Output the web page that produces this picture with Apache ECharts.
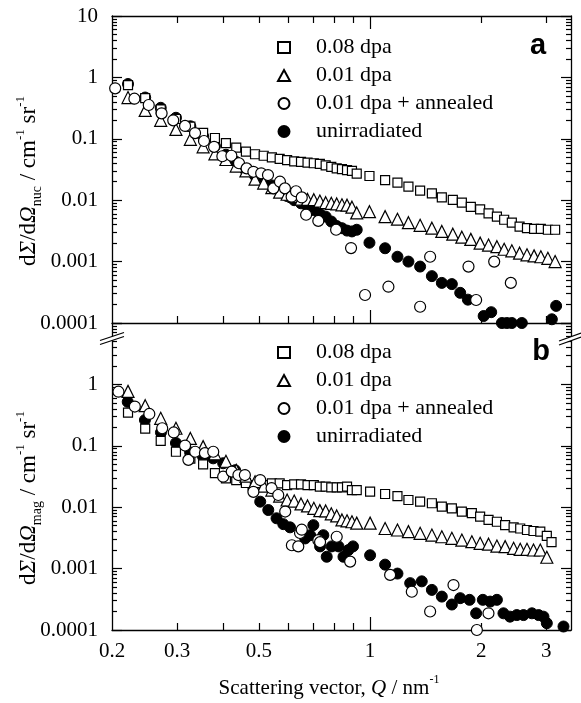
<!DOCTYPE html>
<html><head><meta charset="utf-8">
<script src="https://cdn.jsdelivr.net/npm/echarts@6/dist/echarts.min.js"></script>
<style>html,body{margin:0;padding:0;background:#fff}#c{width:581px;height:703px}</style>
</head><body><div id="c"></div>
<script>
// ---------- data ----------
const seriesNames = ['0.08 dpa', '0.01 dpa', '0.01 dpa + annealed', 'unirradiated'];
const xTickLabels = [0.2, 0.3, 0.5, 1, 2, 3];
const xMinorTicks = [0.3, 0.4, 0.5, 0.6, 0.7, 0.8, 0.9, 2, 3];
const xMajorTicks = [1];
const yDecades = [0.0001, 0.001, 0.01, 0.1, 1, 10];
const yLabelsTop = [0.0001, 0.001, 0.01, 0.1, 1, 10];
const yLabelsBottom = [0.0001, 0.001, 0.01, 0.1, 1];

const qLow = [0.221,0.246,0.271,0.298,0.326,0.353,0.38,0.407,0.434,0.461,0.488,0.515,0.542,0.569,0.596,0.623,0.65,0.677,0.704,0.731,0.758,0.785,0.812,0.839,0.866,0.893,0.92];
const qHighA = [0.996,1.098,1.186,1.27,1.366,1.47,1.564,1.675,1.772,1.874,1.986,2.093,2.205,2.307,2.42,2.54,2.66,2.78,2.90,3.03,3.17];
const qHighB = [1.0,1.098,1.186,1.27,1.366,1.47,1.564,1.665,1.772,1.886,1.986,2.093,2.205,2.321,2.447,2.55,2.66,2.77,2.89,3.01,3.1];

// panel a (nuclear)
const aSqLow  = [0.75,0.46,0.30,0.21,0.158,0.125,0.103,0.085,0.072,0.062,0.056,0.053,0.050,0.047,0.045,0.043,0.042,0.041,0.040,0.039,0.037,0.035,0.033,0.032,0.031,0.030,0.027];
const aSqHigh = [0.0248,0.0213,0.0193,0.0166,0.0143,0.0129,0.0111,0.0101,0.0091,0.0078,0.0071,0.0061,0.0054,0.0048,0.0043,0.0037,0.0035,0.0034,0.0034,0.0033,0.0033];
const aTriLow  = [0.47,0.29,0.20,0.142,0.098,0.074,0.057,0.046,0.036,0.030,0.022,0.019,0.016,0.0135,0.0125,0.0115,0.0104,0.0103,0.0102,0.0097,0.0091,0.0089,0.0087,0.0084,0.0083,0.0077,0.0062];
const aTriHigh = [0.0065,0.0054,0.0049,0.0043,0.0039,0.0035,0.0031,0.0028,0.0025,0.0023,0.0020,0.00186,0.00175,0.00159,0.0015,0.00137,0.00129,0.00124,0.0012,0.00113,0.001];
const aUnLow = [0.78,0.47,0.32,0.22,0.16,0.11,0.076,0.055,0.042,0.030,0.025,0.021,0.0174,0.0145,0.0117,0.010,0.0089,0.0079,0.0069,0.006,0.0054,0.0045,0.0038,0.0035,0.0032,0.0031,0.0033];
const aUnQHigh = [0.996,1.098,1.186,1.27,1.366,1.47,1.564,1.665,1.754,1.84,2.03,2.128,2.275,2.346,2.42,2.576,3.106,3.19];
const aUnHigh  = [0.00203,0.00165,0.0012,0.001,0.00083,0.00058,0.00045,0.00043,0.00031,0.00024,0.00013,0.00015,0.0001,0.0001,0.0001,0.0001,0.000115,0.00019];
const aAnQ = [0.204,0.230,0.2515,0.2725,0.293,0.3154,0.3357,0.355,0.378,0.398,0.421,0.4416,0.463,0.483,0.507,0.529,0.547,0.570,0.588,0.613,0.63,0.653,0.671,0.724,0.809,0.888,0.969,1.121,1.366,1.454,1.847,1.937,2.168,2.405];
const aAn  = [0.664,0.45,0.355,0.26,0.20,0.162,0.124,0.092,0.074,0.052,0.053,0.040,0.033,0.029,0.0274,0.0257,0.0156,0.020,0.0156,0.0114,0.014,0.0111,0.0058,0.0046,0.0033,0.00166,0.000286,0.00039,0.000184,0.0012,0.00083,0.000237,0.001,0.00045];

// panel b (magnetic)
const bSqLow  = [0.346,0.19,0.12,0.080,0.062,0.050,0.036,0.0295,0.0277,0.0248,0.0229,0.0229,0.0245,0.0245,0.0229,0.0236,0.0236,0.0229,0.0229,0.0216,0.0216,0.0211,0.0211,0.0211,0.0216,0.019,0.019];
const bSqHigh = [0.0179,0.0164,0.0152,0.0131,0.0123,0.0116,0.0102,0.0096,0.0085,0.0080,0.0070,0.0062,0.0058,0.0051,0.0047,0.0045,0.00425,0.0041,0.0040,0.0034,0.0027];
const bTriLow  = [0.77,0.45,0.28,0.193,0.132,0.097,0.074,0.056,0.040,0.032,0.026,0.022,0.019,0.0152,0.0131,0.0126,0.0113,0.0105,0.0096,0.0088,0.0087,0.0078,0.0072,0.0062,0.006,0.0058,0.0055];
const bTriHigh = [0.0055,0.0045,0.00425,0.0040,0.00376,0.00352,0.0033,0.00311,0.00292,0.00274,0.00258,0.0025,0.00233,0.00228,0.00214,0.00206,0.00206,0.00201,0.00201,0.00153];
const bUnQLow = [0.2206,0.2456,0.2714,0.298,0.3255,0.353,0.376,0.40,0.431,0.449,0.483,0.504,0.530,0.558,0.582,0.607,0.667,0.688,0.702,0.732,0.747,0.763,0.787,0.821,0.847,0.873,0.899];
const bUnLow  = [0.52,0.263,0.165,0.111,0.078,0.066,0.0625,0.052,0.040,0.030,0.020,0.0123,0.009,0.0066,0.0053,0.0047,0.0031,0.0035,0.0051,0.0023,0.0035,0.00156,0.0023,0.0023,0.00156,0.002,0.0023];
const bUnQHigh = [1.0,1.098,1.186,1.284,1.38,1.47,1.564,1.665,1.754,1.859,1.937,2.02,2.114,2.205,2.297,2.393,2.496,2.603,2.743,2.86,2.948,3.01,3.34];
const bUnHigh  = [0.00165,0.00116,0.00083,0.00058,0.00062,0.00045,0.00035,0.00026,0.00033,0.00031,0.000187,0.00031,0.00029,0.00031,0.000187,0.000165,0.000175,0.000175,0.000187,0.000175,0.000165,0.000129,0.000114];
const bAnQ = [0.2082,0.2306,0.2524,0.2735,0.294,0.3154,0.322,0.336,0.357,0.376,0.40,0.422,0.44,0.458,0.483,0.504,0.541,0.564,0.589,0.614,0.639,0.646,0.653,0.724,0.732,0.812,0.883,1.133,1.297,1.454,1.682,1.946,2.092];
const bAn  = [0.76,0.436,0.33,0.193,0.165,0.101,0.059,0.080,0.076,0.080,0.0314,0.038,0.0334,0.0334,0.0178,0.0277,0.0204,0.0158,0.0085,0.0024,0.0023,0.0038,0.0043,0.0029,0.0027,0.0033,0.0013,0.00079,0.00042,0.0002,0.00054,0.0001,0.000187];

// ---------- helpers ----------
const zip = (xs, ys) => ys.map((y, i) => [xs[i], y]);
const serif = "'Liberation Serif','Times New Roman',serif";
const fmt = v => String(parseFloat(Number(v).toPrecision(6)));
const yMinorTicks = [];
yDecades.slice(0, 5).forEach(d => { for (let m = 2; m <= 9; m++) yMinorTicks.push(d * m); });
const line = { color: '#000', width: 1.3 };

const grids = [
  { left: 112, top: 16, width: 459, height: 307 },
  { left: 112, top: 323, width: 459, height: 307 }
];
grids.forEach(g => { g.containLabel = false; g.outerBoundsMode = 'none'; });

const xAxes = [], yAxes = [];
function xAx(g, pos, showLine, ticks, len, labels) {
  xAxes.push({
    gridIndex: g, type: 'log', logBase: 10, min: 0.2, max: 3.5, position: pos,
    axisLine: { show: showLine, onZero: false, lineStyle: line },
    axisTick: { show: true, inside: true, length: len, customValues: ticks, lineStyle: { color: '#000', width: 1.2 } },
    axisLabel: labels ? { show: true, customValues: labels, margin: 11, color: '#000', fontSize: 21, fontFamily: serif, formatter: fmt } : { show: false },
    splitLine: { show: false }, minorTick: { show: false }
  });
  return xAxes.length - 1;
}
function yAx(g, pos, showLine, ticks, len, labels) {
  yAxes.push({
    gridIndex: g, type: 'log', logBase: 10, min: 0.0001, max: 10, position: pos,
    axisLine: { show: showLine, lineStyle: line },
    axisTick: { show: true, inside: true, length: len, customValues: ticks, lineStyle: { color: '#000', width: 1.2 } },
    axisLabel: labels ? { show: true, customValues: labels, margin: 14, color: '#000', fontSize: 21, fontFamily: serif, formatter: fmt } : { show: false },
    splitLine: { show: false }, minorTick: { show: false }
  });
  return yAxes.length - 1;
}
const xMain = [], yMain = [];
[0, 1].forEach(g => {
  xMain[g] = xAx(g, 'bottom', true, xMinorTicks, 7, g === 1 ? xTickLabels : null);
  xAx(g, 'bottom', false, xMajorTicks, 13, null);
  if (g === 0) { xAx(g, 'top', true, xMinorTicks, 7, null); xAx(g, 'top', false, xMajorTicks, 13, null); }
  yMain[g] = yAx(g, 'left', true, yDecades, 10, g === 0 ? yLabelsTop : yLabelsBottom);
  yAx(g, 'left', false, yMinorTicks, 5, null);
  yAx(g, 'right', true, yDecades, 10, null);
  yAx(g, 'right', false, yMinorTicks, 5, null);
});

const styleSq  = { symbol: 'rect', symbolSize: 9, itemStyle: { color: '#fff', borderColor: '#000', borderWidth: 1.2, opacity: 1 } };
const styleTri = { symbol: 'triangle', symbolSize: 12, itemStyle: { color: '#fff', borderColor: '#000', borderWidth: 1.2, opacity: 1 } };
const styleOc  = { symbol: 'circle', symbolSize: 11, itemStyle: { color: '#fff', borderColor: '#000', borderWidth: 1.2, opacity: 1 } };
const styleFc  = { symbol: 'circle', symbolSize: 11, itemStyle: { color: '#000', borderColor: '#000', borderWidth: 1, opacity: 1 } };

function sc(g, name, st, data) {
  return Object.assign({ type: 'scatter', name, xAxisIndex: xMain[g], yAxisIndex: yMain[g], data, clip: false,
    emphasis: { disabled: true }, animation: false }, st);
}
const series = [
  sc(0, seriesNames[3], styleFc, zip(qLow, aUnLow).concat(zip(aUnQHigh, aUnHigh))),
  sc(0, seriesNames[0], styleSq, zip(qLow, aSqLow).concat(zip(qHighA, aSqHigh))),
  sc(0, seriesNames[1], styleTri, zip(qLow, aTriLow).concat(zip(qHighA, aTriHigh))),
  sc(0, seriesNames[2], styleOc, zip(aAnQ, aAn)),
  sc(1, seriesNames[3], styleFc, zip(bUnQLow, bUnLow).concat(zip(bUnQHigh, bUnHigh))),
  sc(1, seriesNames[0], styleSq, zip(qLow, bSqLow).concat(zip(qHighB, bSqHigh))),
  sc(1, seriesNames[1], styleTri, zip(qLow, bTriLow).concat(zip(qHighB, bTriHigh))),
  sc(1, seriesNames[2], styleOc, zip(bAnQ, bAn))
];

const legendBase = {
  orient: 'vertical', left: 277, padding: 0, itemWidth: 12, itemHeight: 11, itemGap: 6,
  selectedMode: false, data: seriesNames,
  textStyle: { fontSize: 22, fontFamily: serif, color: '#000', lineHeight: 21, padding: [0, 0, 0, 21] }
};

const richBase = {
  n: { fontSize: 23, fontFamily: serif, color: '#000', lineHeight: 30 },
  i: { fontSize: 23, fontFamily: serif, fontStyle: 'italic', color: '#000', lineHeight: 30 },
  s: { fontSize: 14, fontFamily: serif, color: '#000', verticalAlign: 'bottom', lineHeight: 14 },
  p: { fontSize: 13, fontFamily: serif, color: '#000', verticalAlign: 'top', lineHeight: 13 }
};
const xRich = {
  n: { fontSize: 21, fontFamily: serif, color: '#000', lineHeight: 28 },
  i: { fontSize: 21, fontFamily: serif, fontStyle: 'italic', color: '#000', lineHeight: 28 },
  p: { fontSize: 12, fontFamily: serif, color: '#000', verticalAlign: 'top', lineHeight: 12 }
};

const graphics = [
  { type: 'text', x: 29, y: 181, rotation: Math.PI / 2, z: 100,
    style: { text: '{n|d}{i|Σ}{n|/d}{i|Ω}{s|nuc}{n| / cm}{p|-1}{n| sr}{p|-1}', rich: richBase, align: 'center', verticalAlign: 'middle' } },
  { type: 'text', x: 29, y: 498, rotation: Math.PI / 2, z: 100,
    style: { text: '{n|d}{i|Σ}{n|/d}{i|Ω}{s|mag}{n| / cm}{p|-1}{n| sr}{p|-1}', rich: richBase, align: 'center', verticalAlign: 'middle' } },
  { type: 'text', x: 329, y: 688, z: 100,
    style: { text: '{n|Scattering vector, }{i|Q}{n| / nm}{p|-1}', rich: xRich, align: 'center', verticalAlign: 'middle' } },
  { type: 'text', x: 538, y: 46, z: 100,
    style: { text: 'a', fontSize: 29, fontWeight: 'bold', fontFamily: "'Liberation Sans',Arial,sans-serif", fill: '#000', align: 'center', verticalAlign: 'middle' } },
  { type: 'text', x: 541, y: 352, z: 100,
    style: { text: 'b', fontSize: 29, fontWeight: 'bold', fontFamily: "'Liberation Sans',Arial,sans-serif", fill: '#000', align: 'center', verticalAlign: 'middle' } },
  // axis break marks
  { type: 'polygon', z: 100, shape: { points: [[100, 340.5], [124, 332.5], [124, 336.5], [100, 344.5]] }, style: { fill: '#fff' } },
  { type: 'line', z: 101, shape: { x1: 100, y1: 340.5, x2: 124, y2: 332.5 }, style: { stroke: '#000', lineWidth: 1.2 } },
  { type: 'line', z: 101, shape: { x1: 100, y1: 344.5, x2: 124, y2: 336.5 }, style: { stroke: '#000', lineWidth: 1.2 } },
  { type: 'polygon', z: 100, shape: { points: [[559, 341], [581, 333], [581, 337], [559, 345]] }, style: { fill: '#fff' } },
  { type: 'line', z: 101, shape: { x1: 559, y1: 341, x2: 581, y2: 333 }, style: { stroke: '#000', lineWidth: 1.2 } },
  { type: 'line', z: 101, shape: { x1: 559, y1: 345, x2: 581, y2: 337 }, style: { stroke: '#000', lineWidth: 1.2 } }
];

const chart = echarts.init(document.getElementById('c'), null, { renderer: 'canvas' });
chart.setOption({
  animation: false,
  backgroundColor: '#fff',
  grid: grids,
  xAxis: xAxes,
  yAxis: yAxes,
  legend: [
    Object.assign({}, legendBase, { top: 36.5 }),
    Object.assign({}, legendBase, { top: 341.5 })
  ],
  series: series,
  graphic: graphics
});
</script>
</body></html>
